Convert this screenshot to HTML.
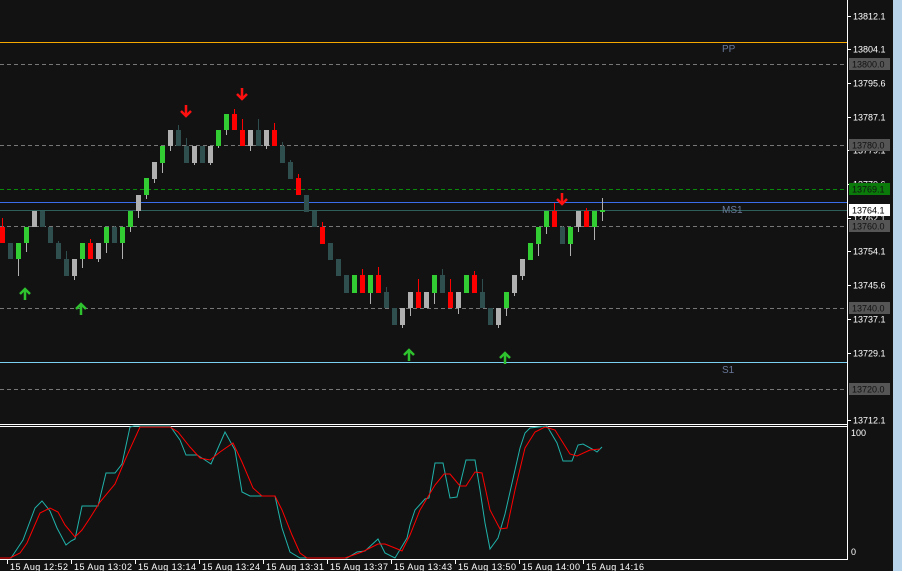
<!DOCTYPE html>
<html><head><meta charset="utf-8"><style>
html,body{margin:0;padding:0;background:#121212;width:902px;height:571px;overflow:hidden}
svg{display:block}
text{font-family:"Liberation Sans",sans-serif;font-size:9px;fill:#fff}
</style></head><body>
<svg id="s" width="902" height="571" xmlns="http://www.w3.org/2000/svg">
<rect width="902" height="571" fill="#121212"/>
<rect x="893" y="0" width="9" height="571" fill="#b8d4ea"/>
<g id="lv">
<line x1="0" y1="42.5" x2="847" y2="42.5" stroke="#f5a800"/>
<line x1="0" y1="189.5" x2="847" y2="189.5" stroke="#0a8a0a" stroke-dasharray="4,3"/>
<line x1="0" y1="202.5" x2="847" y2="202.5" stroke="#3a6ee8"/>
<line x1="0" y1="210.5" x2="847" y2="210.5" stroke="#2f5f5a"/>
<line x1="0" y1="362.5" x2="847" y2="362.5" stroke="#7ad0f0"/>
<g stroke="#777" stroke-dasharray="4,3">
<line x1="0" y1="64.5" x2="847" y2="64.5"/><line x1="0" y1="145.5" x2="847" y2="145.5"/>
<line x1="0" y1="226.5" x2="847" y2="226.5"/><line x1="0" y1="308.5" x2="847" y2="308.5"/>
<line x1="0" y1="389.5" x2="847" y2="389.5"/></g>
<text x="722" y="52" style="fill:#6a7a9a;font-size:10px">PP</text>
<text x="722" y="213" style="fill:#6a7a9a;font-size:10px">MS1</text>
<text x="722" y="373" style="fill:#6a7a9a;font-size:10px">S1</text>
</g>
<g id="c"></g>
<g id="ar"></g>
<line x1="0" y1="424.5" x2="847" y2="424.5" stroke="#fff"/>
<line x1="0" y1="426.5" x2="847" y2="426.5" stroke="#fff"/>
<line x1="847.5" y1="0" x2="847.5" y2="560" stroke="#fff"/>
<line x1="0" y1="559.5" x2="848" y2="559.5" stroke="#fff"/>
<g id="osc"></g>
<g id="ax"></g>
</svg>
<script>
var ns="http://www.w3.org/2000/svg";
function el(p,t,a,txt){var e=document.createElementNS(ns,t);for(var k in a)e.setAttribute(k,a[k]);if(txt)e.textContent=txt;p.appendChild(e);return e;}
var G="#32cd32",R="#ff0000",W="#b0b0b0",D="#2f4f4f";
var C=[[R,227,243,218,243],[D,243,259],[G,243,259,243,276],[G,227,243,227,252],[W,211,227],[D,211,227],[D,227,243],[D,243,259,241,259],[D,259,276,251,276],[W,259,276,259,280],
[G,243,259,243,268],[R,243,259,239,259],[W,243,259,243,262],[G,227,243,227,253],[D,227,243,226,243],[G,227,243,227,259],[G,211,227,211,232],[W,195,211,195,218],[G,178,195,178,199],[W,162,179,162,183],
[G,146,163,146,173],[W,130,146,130,151],[D,130,146,125,146],[D,146,163,138,163],[W,146,163,146,165],[D,146,163],[W,146,163,146,165],[G,130,146,130,148],[G,114,130,114,135],[R,114,130,109,130],
[R,130,146,119,146],[W,130,146,130,151],[D,130,146,119,146],[W,130,146,130,149],[R,130,146,123,146],[D,146,163,142,163],[D,162,179,160,179],[R,178,195,174,195],[D,195,212],[D,211,227],
[R,227,244,222,244],[D,243,260],[D,259,276],[D,275,293],[G,275,293],[R,275,293,269,293],[G,275,293,275,304],[R,275,293,267,293],[D,292,308,287,308],[D,308,325],
[W,308,325,308,328],[W,292,308,292,316],[R,292,308,279,308],[W,292,308],[G,275,293,275,304],[D,275,293,269,293],[R,292,308,279,308],[W,292,308,292,314],[G,275,293],[R,275,293,271,293],
[D,292,308,279,308],[D,308,325],[W,308,325,308,328],[G,292,308,292,316],[W,275,293,275,296],[W,259,276,259,280],[G,243,260,243,256],[G,227,244,227,256],[G,211,227,211,234],[R,211,227,203,227],
[D,227,244,226,244],[G,227,244,227,256],[W,211,227,211,232],[R,211,227,208,227],[G,211,227,211,240],[G,210,212,198,221]];
var cg=document.getElementById("c");
C.forEach(function(c,i){var x=8*i;var wc=c[0]==G?W:c[0];
 if(c[3]!==undefined)el(cg,"line",{x1:x+2.5,x2:x+2.5,y1:c[3],y2:c[4],stroke:wc});
 el(cg,"rect",{x:x,y:c[1],width:5,height:Math.max(1,c[2]-c[1]),fill:c[0]});});
var ag=document.getElementById("ar");
function arrow(x,y,dn,col){
 if(dn){el(ag,"line",{x1:x,x2:x,y1:y,y2:y+11,stroke:col,"stroke-width":2.5});
  el(ag,"polyline",{points:(x-5)+","+(y+6)+" "+x+","+(y+11)+" "+(x+5)+","+(y+6),fill:"none",stroke:col,"stroke-width":2.5});}
 else{el(ag,"line",{x1:x,x2:x,y1:y+2,y2:y+13,stroke:col,"stroke-width":2.5});
  el(ag,"polyline",{points:(x-5)+","+(y+7)+" "+x+","+(y+2)+" "+(x+5)+","+(y+7),fill:"none",stroke:col,"stroke-width":2.5});}}
arrow(186,105,1,"#ff1010");arrow(242,88,1,"#ff1010");arrow(562,193,1,"#ff1010");
arrow(25,287,0,"#2ec22e");arrow(81,302,0,"#2ec22e");arrow(409,348,0,"#2ec22e");arrow(505,351,0,"#2ec22e");
var cy=[[0,558],[11,558],[15,552],[23,540],[35,508],[42,501],[50,511],[57,528],[66,545],[71,541],[75,539],[82,506],[98,506],[106,473],[115,473],[122,464],[130,427],[134,426],[170,426],[180,440],[186,455],[197,455],[205,460],[211,464],[225,432],[235,450],[242,492],[250,496],[275,496],[282,528],[290,552],[300,558],[347,558],[357,552],[365,551],[378,539],[385,553],[395,558],[407,538],[410,525],[415,510],[425,499],[429,498],[435,463],[443,463],[450,498],[457,497],[466,460],[475,460],[480,490],[485,523],[490,549],[498,538],[505,514],[520,448],[525,433],[530,428],[547,426],[557,443],[563,461],[572,461],[578,445],[583,444],[594,450],[597,452],[602,447]];
var rd=[[0,558],[10,558],[20,553],[27,543],[40,513],[50,508],[58,512],[65,525],[75,537],[82,530],[90,518],[100,502],[115,484],[125,460],[140,427],[170,427],[178,432],[190,447],[200,458],[210,460],[220,452],[233,443],[242,462],[253,488],[262,496],[275,496],[282,510],[292,535],[300,553],[307,558],[345,558],[362,552],[378,544],[385,544],[395,548],[402,551],[410,535],[420,510],[435,485],[444,474],[450,474],[460,486],[466,486],[475,472],[482,473],[490,510],[500,529],[507,528],[515,490],[525,448],[535,432],[545,427],[555,430],[570,454],[577,456],[590,450],[600,449]];
var og=document.getElementById("osc");
el(og,"polyline",{points:cy.join(" "),fill:"none",stroke:"#20b2aa","stroke-width":1});
el(og,"polyline",{points:rd.join(" "),fill:"none",stroke:"#ff0000","stroke-width":1});
var ax=document.getElementById("ax");
[["13812.1",16],["13804.1",49],["13795.6",83],["13787.1",117],["13779.1",150],["13770.6",184],["13762.1",218],["13754.1",251],["13745.6",285],["13737.1",319],["13729.1",353],["13712.1",420]].forEach(function(p){
 el(ax,"line",{x1:847,x2:851,y1:p[1]+.5,y2:p[1]+.5,stroke:"#fff"});el(ax,"text",{x:853,y:p[1]+3.5},p[0]);});
[["13800.0",64,"#555","#111"],["13780.0",145,"#555","#111"],["13769.1",189,"#0a7a0a","#111"],["13764.1",210,"#fff","#000"],["13760.0",226,"#555","#111"],["13740.0",308,"#555","#111"],["13720.0",389,"#555","#111"]].forEach(function(p){
 el(ax,"rect",{x:849,y:p[1]-6,width:41,height:12,fill:p[2]});var t=el(ax,"text",{x:852,y:p[1]+3.5},p[0]);t.style.fill=p[3];});
el(ax,"text",{x:851,y:436},"100");el(ax,"text",{x:851,y:555},"0");
var tl=["15 Aug 12:52","15 Aug 13:02","15 Aug 13:14","15 Aug 13:24","15 Aug 13:31","15 Aug 13:37","15 Aug 13:43","15 Aug 13:50","15 Aug 14:00","15 Aug 14:16"];
tl.forEach(function(t,i){var x=7+64*i;el(ax,"line",{x1:x+.5,x2:x+.5,y1:559,y2:564,stroke:"#fff"});var e=el(ax,"text",{x:x+3,y:570},t);e.setAttribute("textLength","58");});
</script>
</body></html>
